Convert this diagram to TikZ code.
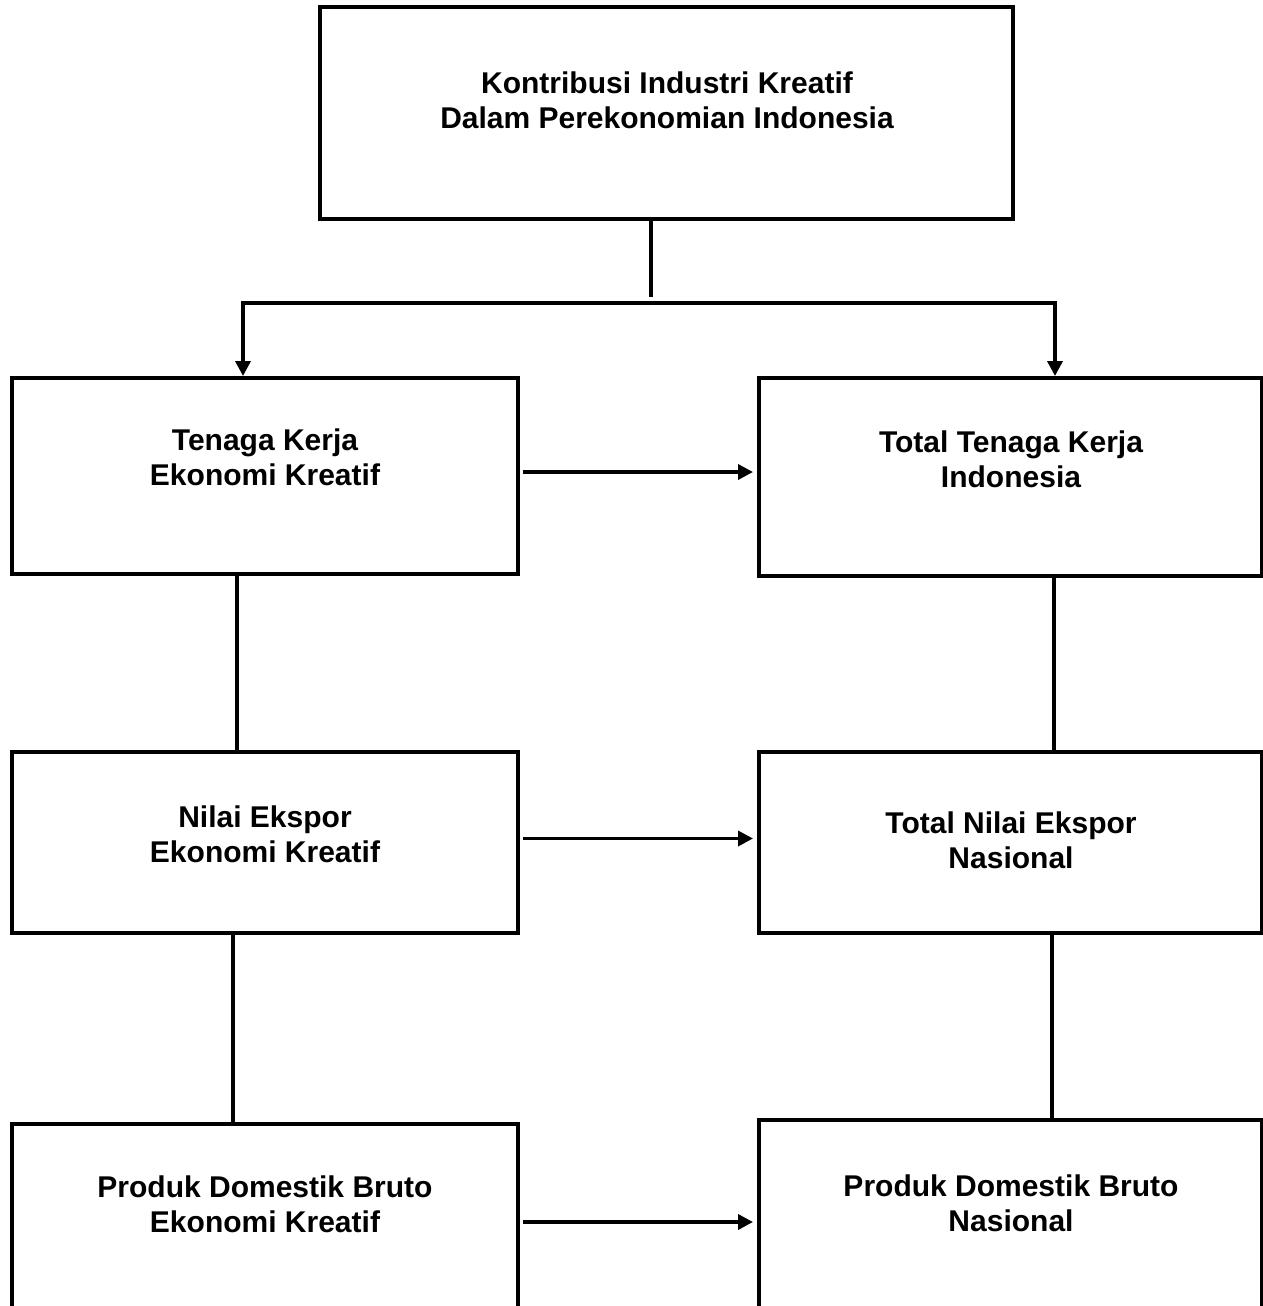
\documentclass[tikz,border=0pt]{standalone}
\usepackage{fontspec}
\setmainfont{Liberation Sans}
\usetikzlibrary{arrows.meta,positioning}
\begin{document}
\begin{tikzpicture}[x=1pt, y=-1pt, line width=3.5pt,
		box/.style = {draw, rectangle, line width=4pt, inner sep=0pt},
		lbl/.style = {align=center, font=\bfseries\fontsize{30}{35}\selectfont},
		arr/.style = {-{Triangle[length=15pt,width=15pt]}}]
		\clip (0,0) rectangle (1263,1306);
		% boxes
		\node[box, minimum width=693pt, minimum height=212pt] (kik) at (666.5,113) {};
		\node[box, minimum width=506pt, minimum height=196pt] (tk) at (265,476) {};
		\node[box, minimum width=503pt, minimum height=198pt] (ttk) at (1010.5,477) {};
		\node[box, minimum width=506pt, minimum height=181pt] (ne) at (265,842.5) {};
		\node[box, minimum width=503pt, minimum height=181pt] (tne) at (1010.5,842.5) {};
		\node[box, minimum width=506pt, minimum height=196pt] (pdb) at (265,1222) {};
		\node[box, minimum width=503pt, minimum height=196pt] (pdbn) at (1010.5,1218) {};
		% texts
		\node[lbl] (kik-t) at (667,100) {Kontribusi Industri Kreatif\\Dalam Perekonomian Indonesia};
		\node[lbl] (tk-t) at (265,457) {Tenaga Kerja\\Ekonomi Kreatif};
		\node[lbl] (ttk-t) at (1011,459) {Total Tenaga Kerja\\Indonesia};
		\node[lbl] (ne-t) at (265,834) {Nilai Ekspor\\Ekonomi Kreatif};
		\node[lbl] (tne-t) at (1011,840) {Total Nilai Ekspor\\Nasional};
		\node[lbl] (pdb-t) at (265,1204) {Produk Domestik Bruto\\Ekonomi Kreatif};
		\node[lbl] (pdbn-t) at (1011,1203) {Produk Domestik Bruto\\Nasional};
		% connectors
		\coordinate (split) at (651,297);
		\coordinate (bar) at (651,303);
		\draw ([xshift=-15.5pt]kik.south) -- (split);
		\draw[arr] (bar) -| ([xshift=-22pt]tk.north);
		\draw[arr] (bar) -| ([xshift=44.5pt]ttk.north);
		\draw[arr, shorten <=3pt, shorten >=4pt] ([yshift=4pt]tk.east) -- ([yshift=4pt]tk.east -| ttk.west);
		\draw[arr, shorten <=3pt, shorten >=4pt] ([yshift=4pt]ne.east) -- ([yshift=4pt]ne.east -| tne.west);
		\draw[arr, shorten <=3pt, shorten >=4pt] (pdb.east) -- (pdb.east -| pdbn.west);
		\draw ([xshift=-28pt]tk.south) -- ([xshift=-28pt]tk.south |- ne.north);
		\draw ([xshift=43.5pt]ttk.south) -- ([xshift=43.5pt]ttk.south |- tne.north);
		\draw ([xshift=-32pt]ne.south) -- ([xshift=-32pt]ne.south |- pdb.north);
		\draw ([xshift=41.5pt]tne.south) -- ([xshift=41.5pt]tne.south |- pdbn.north);
	\end{tikzpicture}
\end{document}
